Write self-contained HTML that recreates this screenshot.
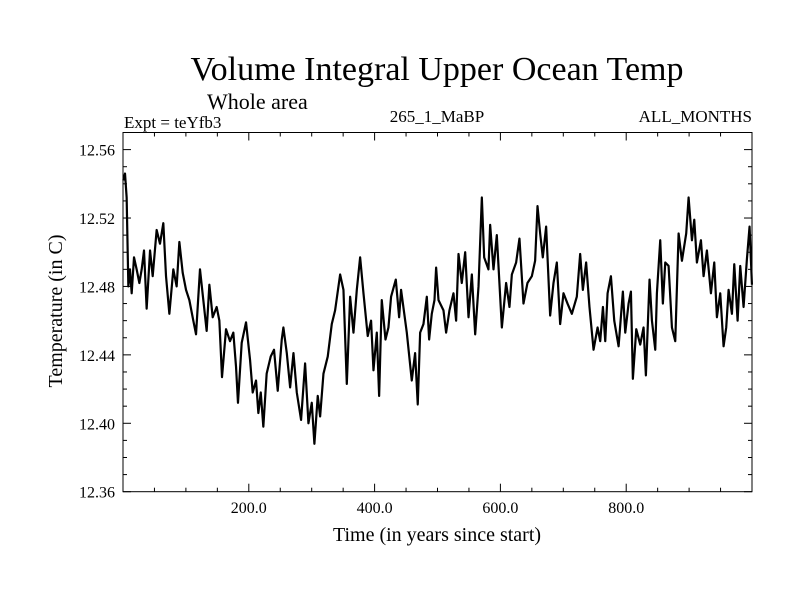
<!DOCTYPE html>
<html><head><meta charset="utf-8"><style>
html,body{margin:0;padding:0;background:#fff;}
svg{display:block;font-family:"Liberation Serif",serif;}
</style></head><body>
<svg id="chart" width="800" height="600">
<text x="437" y="80" font-size="34" text-anchor="middle">Volume Integral Upper Ocean Temp</text>
<text x="207" y="109" font-size="22">Whole area</text>
<text x="124" y="128" font-size="17">Expt = teYfb3</text>
<text x="437" y="122" font-size="17" text-anchor="middle">265_1_MaBP</text>
<text x="752" y="122" font-size="17" text-anchor="end">ALL_MONTHS</text>
<text x="437" y="541" font-size="20" text-anchor="middle">Time (in years since start)</text>
<text transform="translate(62,311) rotate(-90)" font-size="20" text-anchor="middle">Temperature (in C)</text>
<g id="axes"></g>
<polyline id="series" fill="none" stroke="#000" stroke-width="2.2" stroke-linejoin="round"></polyline>
<rect x="123" y="132.5" width="629" height="359.2" fill="none" stroke="#000" stroke-width="1"></rect>
</svg>
<script>
const years=[0.5,3.2,5.8,8.5,11.1,13.8,17.5,21.7,26,29.7,33.4,37.6,43,47.2,53.5,58.8,64.1,68.4,73.7,80,85.3,89.6,94.9,100.2,105.5,111.8,116.1,122.4,127.7,133,137.3,142.6,148.9,153.2,157.4,163.8,170.1,175.4,179.7,182.8,188.7,195.6,202,206.2,211.5,215.2,219,223.1,228.4,234.8,240.1,246,252.4,255,260.4,265.7,271,276.3,283.1,289.5,294.8,300.1,304.3,309.6,313.4,318.7,325.5,331.9,337.2,345.2,350.5,355.8,361.1,366.4,371.7,377,382.3,389.1,394.4,398.2,403.5,407.2,411.4,417.3,422,426.2,433.7,439,442.1,451.2,459.1,464.4,468.6,472.4,477.7,483,486.7,490.9,495.2,497.8,501.6,509.5,513.7,519,525.4,529.6,533.4,538.6,544,549.3,554.6,559.9,565.2,570.5,574.2,581,583.7,589,594.3,602.3,609.1,614.4,618.2,625,630.3,636.7,643,650,655.2,659,663.2,667.4,672.7,679.1,684.4,689.7,695,700.3,706.7,713.6,721.5,726.8,731.1,736.3,741.6,748.1,754.5,758.7,763,766.7,770.4,775.7,781,787.9,794.7,798.5,803.8,807.5,810.6,816,822.3,827.6,831.3,837.1,840.9,846.2,848.8,854.1,858.3,862.1,867.4,872.7,878,883.3,888.6,895.4,899.2,904.5,908.2,912.4,918.8,923,928.3,934.7,940,944.2,949.5,954.8,959,962.8,968.1,971.8,977.1,981.3,986.6,991.9,996.1,999.9];
const temps=[12.542,12.546,12.532,12.480,12.490,12.476,12.497,12.490,12.482,12.490,12.501,12.467,12.501,12.486,12.513,12.505,12.517,12.486,12.464,12.490,12.480,12.506,12.488,12.478,12.472,12.460,12.452,12.490,12.472,12.454,12.481,12.462,12.468,12.460,12.427,12.455,12.448,12.453,12.433,12.412,12.447,12.459,12.437,12.418,12.425,12.406,12.418,12.398,12.429,12.439,12.443,12.419,12.449,12.456,12.441,12.421,12.441,12.418,12.402,12.435,12.400,12.412,12.388,12.416,12.404,12.429,12.439,12.458,12.466,12.487,12.478,12.423,12.474,12.453,12.478,12.497,12.476,12.451,12.460,12.431,12.453,12.416,12.472,12.449,12.456,12.474,12.484,12.462,12.478,12.453,12.425,12.441,12.411,12.453,12.458,12.474,12.449,12.464,12.472,12.491,12.472,12.466,12.453,12.466,12.476,12.460,12.499,12.482,12.500,12.462,12.487,12.452,12.480,12.532,12.497,12.490,12.516,12.490,12.510,12.456,12.482,12.468,12.487,12.494,12.508,12.470,12.482,12.486,12.495,12.527,12.511,12.497,12.515,12.463,12.482,12.494,12.458,12.476,12.470,12.464,12.474,12.499,12.478,12.494,12.468,12.443,12.456,12.448,12.468,12.448,12.476,12.486,12.460,12.445,12.477,12.453,12.470,12.477,12.426,12.455,12.446,12.456,12.428,12.484,12.460,12.443,12.476,12.507,12.470,12.494,12.492,12.456,12.448,12.511,12.495,12.511,12.532,12.507,12.519,12.494,12.507,12.486,12.501,12.476,12.494,12.462,12.476,12.445,12.456,12.478,12.464,12.493,12.460,12.492,12.468,12.496,12.515,12.481];
const yTickLabels=["12.36","12.40","12.44","12.48","12.52","12.56"];
const xTickLabels=["200.0","400.0","600.0","800.0"];
const xMin=0,xMax=1000,yMin=12.36,yMax=12.57;
const L=123,R=752,T=132.5,B=491.7;
function sx(v){return L+(v-xMin)/(xMax-xMin)*(R-L);}
function sy(v){return B-(v-yMin)/(yMax-yMin)*(B-T);}
const NS="http://www.w3.org/2000/svg";
const g=document.getElementById('axes');
function line(x1,y1,x2,y2){const l=document.createElementNS(NS,'line');l.setAttribute('x1',x1);l.setAttribute('y1',y1);l.setAttribute('x2',x2);l.setAttribute('y2',y2);l.setAttribute('stroke','#000');l.setAttribute('stroke-width','1');g.appendChild(l);return l;}
for(let v=50;v<xMax;v+=50){
  const x=sx(v);const major=(v%200===0);const len=major?8:4;
  const t1=line(x,B,x,B-len);
  
  
  const t2=line(x,T,x,T+len);
  
  
}
for(let i=0;i<=20;i++){
  const v=yMin+i*0.01;if(v>yMax+1e-9)break;const y=sy(v);const major=(i%4===0);const len=major?8:4;
  const t1=line(L,y,L+len,y);
  
  
  const t2=line(R,y,R-len,y);
  
  
}
yTickLabels.forEach(s=>{
  const t=document.createElementNS(NS,'text');
  t.setAttribute('x',115);t.setAttribute('y',sy(parseFloat(s))+6);
  t.setAttribute('text-anchor','end');t.setAttribute('font-size','16');
  t.textContent=s;
  
  
  g.appendChild(t);
});
xTickLabels.forEach(s=>{
  const t=document.createElementNS(NS,'text');
  t.setAttribute('x',sx(parseFloat(s)));t.setAttribute('y',513);
  t.setAttribute('text-anchor','middle');t.setAttribute('font-size','16');
  t.textContent=s;
  
  
  g.appendChild(t);
});
document.getElementById('series').setAttribute('points',years.map((y,i)=>sx(y).toFixed(2)+','+sy(temps[i]).toFixed(2)).join(' '));
</script>
</body></html>
